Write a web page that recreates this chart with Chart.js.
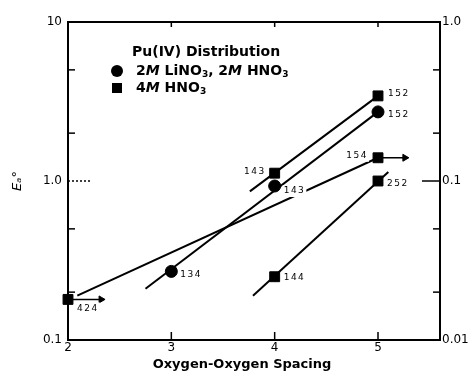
<!DOCTYPE html>
<html lang="en">
<head>
<meta charset="UTF-8">
<title>Pu(IV) Distribution vs Oxygen-Oxygen Spacing</title>
<style>
    html, body { margin: 0; padding: 0; background: #fff; }
    #chart { display: block; }
</style>
</head>
<body>
<canvas id="chart" width="470" height="372"></canvas>
<script src="https://cdn.jsdelivr.net/npm/chart.js@4"></script>
<script>
// axis ticks
const xTicks = [2, 3, 4, 5];
const yTicks = [0.1, 1, 10];
const yTickLabels = ['0.1', '1.0', '10'];
const rightTicks = [0.01, 0.1, 1];
const rightTickLabels = ['0.01', '0.1', '1.0'];

// 2M LiNO3, 2M HNO3 (circles)
const circleX = [3, 4, 5];
const circleY = [0.27, 0.93, 2.72];
const circleLabels = ['134', '143', '152'];

// 4M HNO3 (squares)
const squareX = [2, 4, 4, 5, 5, 5];
const squareY = [0.18, 0.25, 1.12, 3.43, 1.40, 1.00];
const squareLabels = ['424', '144', '143', '152', '154', '252'];

// hand-drawn lines, ends
const lineAX = [3.76, 5];   const lineAY = [0.86, 3.43];
const lineBX = [2.75, 5];   const lineBY = [0.21, 2.72];
const lineCX = [2.09, 5];   const lineCY = [0.19, 1.40];
const lineDX = [3.79, 5.10]; const lineDY = [0.19, 1.14];

// "greater than" arrows
const arrowAX = [2, 2.32];  const arrowAY = [0.18, 0.18];
const arrowBX = [5, 5.26];  const arrowBY = [1.40, 1.40];

// where each point label sits: dx, dy, align
const circleLabelPos = [[9, 3, 'left'], [9, 5, 'left'], [10, 3, 'left']];
const squareLabelPos = [[9, 9, 'left'], [9, 1, 'left'], [-9, -2, 'right'], [10, -2, 'left'], [-10, -2, 'right'], [9, 3, 'left']];

const pts = (xs, ys) => xs.map((x, i) => ({x: x, y: ys[i]}));

Chart.defaults.font.family = '"DejaVu Sans"';
Chart.defaults.color = '#000';

function lineSet(xs, ys) {
    return {
        data: pts(xs, ys), showLine: true, pointRadius: 0,
        borderColor: '#000', borderWidth: 2, clip: false
    };
}

function arrowSet(xs, ys) {
    return {
        data: pts(xs, ys), showLine: true,
        borderColor: '#000', borderWidth: 1.5, backgroundColor: '#000',
        pointStyle: 'triangle', pointRotation: 90,
        pointRadius: ctx => ctx.dataIndex === 1 ? 4 : 0,
        pointBorderWidth: 1, clip: false
    };
}

const pointLabels = {
    id: 'pointLabels',
    afterDatasetsDraw(chart) {
        const ctx = chart.ctx;
        ctx.save();
        ctx.font = '9px "DejaVu Sans"';
        ctx.letterSpacing = '1.5px';
        ctx.textBaseline = 'middle';
        ctx.textAlign = 'left';
        chart.data.datasets.forEach((ds, di) => {
            if (!ds.labels) return;
            chart.getDatasetMeta(di).data.forEach((el, i) => {
                const [dx, dy, align] = ds.labelPos[i];
                const text = ds.labels[i];
                const w = ctx.measureText(text).width;
                const x = align === 'right' ? el.x + dx - w : el.x + dx;
                const y = el.y + dy;
                ctx.fillStyle = '#fff';
                ctx.fillRect(x - 1, y - 6, w + 2, 12);
                ctx.fillStyle = '#000';
                ctx.fillText(text, x, y);
            });
        });
        ctx.restore();
    }
};

const innerTicks = {
    id: 'innerTicks',
    afterDraw(chart) {
        const {ctx, chartArea: a, scales} = chart;
        const seg = (x1, y1, x2, y2) => { ctx.beginPath(); ctx.moveTo(x1, y1); ctx.lineTo(x2, y2); ctx.stroke(); };
        ctx.save();
        ctx.strokeStyle = '#000';
        ctx.lineWidth = 1.5;
        [3, 4, 5].forEach(v => {
            const x = scales.x.getPixelForValue(v);
            seg(x, a.bottom, x, a.bottom - 8);
            seg(x, a.top, x, a.top + 5);
        });
        [0.2, 0.5, 2, 5].forEach(v => {
            const y = scales.y.getPixelForValue(v);
            seg(a.left, y, a.left + 7, y);
            seg(a.right, y, a.right - 7, y);
        });
        const y1 = scales.y.getPixelForValue(1);
        ctx.setLineDash([2, 2]);
        seg(a.left, y1, a.left + 22, y1);
        ctx.setLineDash([]);
        const r1 = scales.yRight.getPixelForValue(0.1);
        seg(a.right - 18, r1, a.right, r1);
        ctx.restore();
    }
};

const legendRows = [
    {marker: 'circle', parts: [['2'], ['M', 'i'], [' LiNO'], ['3', 's'], [', 2'], ['M', 'i'], [' HNO'], ['3', 's']]},
    {marker: 'rect', parts: [['4'], ['M', 'i'], [' HNO'], ['3', 's']]}
];

const legendNote = {
    id: 'legendNote',
    afterDraw(chart) {
        const {ctx, chartArea: a} = chart;
        const x0 = a.left + 64;
        ctx.save();
        ctx.fillStyle = '#000';
        ctx.textBaseline = 'middle';
        ctx.textAlign = 'left';
        ctx.font = 'bold 14px "DejaVu Sans"';
        ctx.fillText('Pu(IV) Distribution', x0, a.top + 30);
        legendRows.forEach((row, r) => {
            const y = a.top + 49 + r * 17;
            ctx.beginPath();
            if (row.marker === 'circle') {
                ctx.arc(x0 - 15, y, 6, 0, Math.PI * 2);
            } else {
                ctx.rect(x0 - 20, y - 5, 10, 10);
            }
            ctx.fill();
            let x = x0 + 4;
            row.parts.forEach(([t, k]) => {
                ctx.font = k === 'i' ? 'italic bold 14px "DejaVu Sans"'
                    : k === 's' ? 'bold 9px "DejaVu Sans"' : 'bold 14px "DejaVu Sans"';
                ctx.fillText(t, x, k === 's' ? y + 4 : y);
                x += ctx.measureText(t).width;
            });
        });
        ctx.restore();
    }
};

new Chart(document.getElementById('chart'), {
    type: 'scatter',
    data: {
        datasets: [
            {
                data: pts(circleX, circleY), labels: circleLabels, labelPos: circleLabelPos,
                pointStyle: 'circle', pointRadius: 6, backgroundColor: '#000', borderColor: '#000', clip: false
            },
            {
                data: pts(squareX, squareY), labels: squareLabels, labelPos: squareLabelPos,
                pointStyle: 'rect', pointRadius: 7, backgroundColor: '#000', borderColor: '#000', clip: false
            },
            arrowSet(arrowAX, arrowAY),
            arrowSet(arrowBX, arrowBY),
            lineSet(lineAX, lineAY),
            lineSet(lineBX, lineBY),
            lineSet(lineCX, lineCY),
            lineSet(lineDX, lineDY)
        ]
    },
    options: {
        responsive: false,
        animation: false,
        layout: { padding: { left: 14, top: 22, right: 0, bottom: 0 } },
        plugins: {
            legend: { display: false },
            tooltip: { enabled: false },
            title: {
                display: true, position: 'bottom', text: 'Oxygen-Oxygen Spacing',
                font: { size: 13, weight: 'bold' }, padding: 0, color: '#000'
            }
        },
        scales: {
            x: {
                type: 'linear', position: 'bottom', min: 2, max: 5.6,
                afterBuildTicks: s => { s.ticks = xTicks.map(v => ({value: v})); },
                afterFit: s => { s.height = 16.4; },
                ticks: { font: { size: 12 }, padding: 1, maxRotation: 0, autoSkip: false },
                grid: { display: false, drawTicks: false },
                border: { color: '#000', width: 2 }
            },
            xTop: {
                type: 'linear', position: 'top', min: 2, max: 5.6,
                afterFit: s => { s.height = 0; },
                ticks: { display: false },
                grid: { display: false, drawTicks: false },
                border: { color: '#000', width: 2 }
            },
            y: {
                type: 'logarithmic', position: 'left', min: 0.1, max: 10,
                afterBuildTicks: s => { s.ticks = yTicks.map(v => ({value: v, major: true})); },
                afterFit: s => { s.width = 54; },
                ticks: { font: { size: 12 }, padding: 6, callback: v => yTickLabels[yTicks.indexOf(v)] },
                grid: { display: false, drawTicks: false },
                border: { color: '#000', width: 2 },
                title: {
                    display: true, text: 'E\u2090\u00b0',
                    font: { size: 13, style: 'italic', lineHeight: 1 }, padding: { top: -3 }
                }
            },
            yRight: {
                type: 'logarithmic', position: 'right', min: 0.01, max: 1,
                afterBuildTicks: s => { s.ticks = rightTicks.map(v => ({value: v, major: true})); },
                afterFit: s => { s.width = 30; },
                ticks: { font: { size: 12 }, padding: 2, callback: v => rightTickLabels[rightTicks.indexOf(v)] },
                grid: { display: false, drawTicks: false },
                border: { color: '#000', width: 2 }
            }
        }
    },
    plugins: [pointLabels, innerTicks, legendNote]
});
</script>
</body>
</html>
